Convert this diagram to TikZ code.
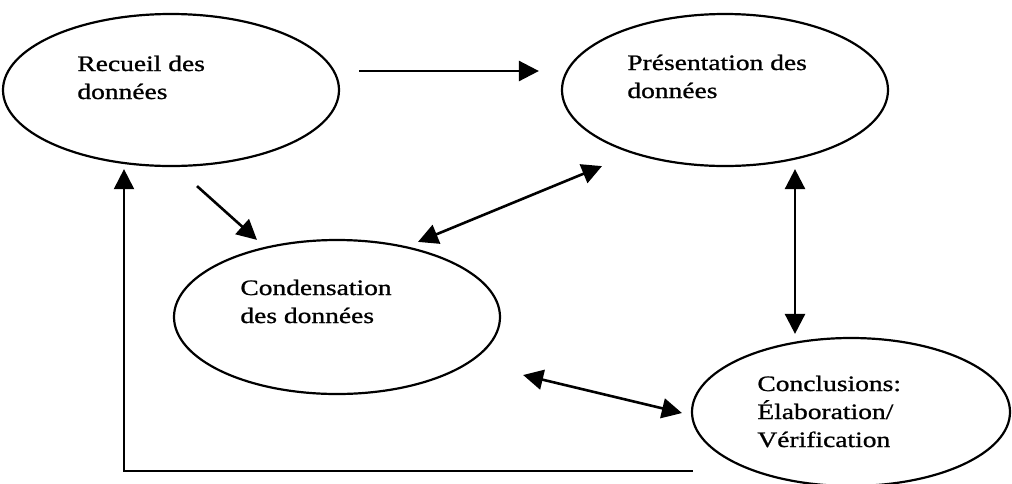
\documentclass[tikz,border=0pt]{standalone}
\usepackage{fontspec}
\setmainfont{Liberation Serif}[FakeStretch=1.25,FakeBold=1]
\usetikzlibrary{arrows.meta,positioning,calc,shapes.geometric}

\begin{document}
\begin{tikzpicture}[x=0.5pt,y=-0.5pt,
e/.style={draw,ellipse,line width=1.1pt,inner sep=0pt},
t/.style={anchor=base west,align=left,inner sep=0pt,font=\fontsize{11}{14}\selectfont},
a/.style={-{Triangle[length=10pt,width=10pt]},line width=1.3pt},
aa/.style={{Triangle[length=10pt,width=10pt]}-{Triangle[length=10pt,width=10pt]},line width=1.3pt}]
\useasboundingbox (0,0) rectangle (1012,483);
\node[e,minimum width=168pt,minimum height=76pt] (recueil) at (171,90) {};
\node[e,minimum width=163pt,minimum height=76pt] (pres) at (725,90) {};
\node[e,minimum width=163pt,minimum height=77pt] (cond) at (337,317) {};
\node[e,minimum width=159pt,minimum height=74pt] (concl) at (851,412) {};
% base = last line
\node[t] (trecueil) at (77,99) {Recueil des\\données};
\node[t] (tpres) at (627,98) {Présentation des\\données};
\node[t] (tcond) at (240,323) {Condensation\\des données};
\node[t] (tconcl) at (757,447) {Conclusions:\\Élaboration/\\Vérification};
\draw[a] ([shift={(19,-19)}]recueil.east)--([shift={(-22,-19)}]pres.west);
\draw[a] ([shift={(26,19)}]recueil.south)--([shift={(-80,1)}]cond.north);
\draw[aa] ([shift={(81,3)}]cond.north)--([shift={(-123,-1)}]pres.south);
\draw[aa] ([shift={(70,2)}]pres.south)--([shift={(-56,-3)}]concl.north);
\draw[aa] ([shift={(22,58)}]cond.east)--([shift={(-9,1)}]concl.west);
\draw[a,line width=1pt] ([shift={(2,59)}]concl.west) -| ([shift={(-47,2)}]recueil.south);
\end{tikzpicture}
\end{document}
